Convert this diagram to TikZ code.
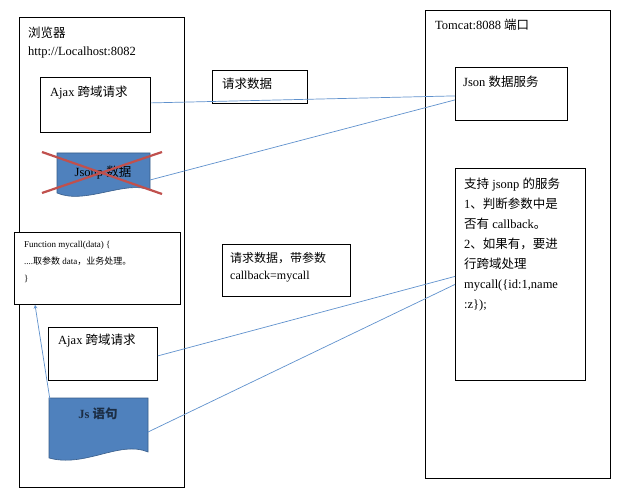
\documentclass[tikz,border=0pt]{standalone}
\usepackage{fontspec}
\setmainfont{Liberation Serif}
\newfontfamily\cjk{Noto Sans CJK SC}
\newcommand{\zh}[1]{{\cjk #1}}
\definecolor{lnblue}{RGB}{95,145,205}
\definecolor{docblue}{RGB}{79,129,189}
\definecolor{docedge}{RGB}{56,93,138}
\definecolor{xred}{RGB}{192,80,77}
\begin{document}
\begin{tikzpicture}[x=1pt,y=-1pt,
  box/.style={draw=black,line width=0.8pt,fill=white},
  lbl/.style={anchor=north west,inner sep=0pt,font=\fontsize{12.5}{15}\selectfont,align=left},
  conn/.style={draw=lnblue,line width=0.7pt}]
\useasboundingbox (0,0) rectangle (643,500);
% containers
\node[box,minimum width=165pt,minimum height=470pt,anchor=north west] (browser) at (19,17) {};
\node[lbl] (bt1) at (28,27) {\zh{浏览器}};
\node[lbl] (bt2) at (28,47) {http://Localhost:8082};
\node[box,minimum width=185pt,minimum height=468pt,anchor=north west] (tomcat) at (425,10) {};
\node[lbl] (tt) at (435,19) {Tomcat:8088 \zh{端口}};
% browser boxes
\node[box,minimum width=110pt,minimum height=55pt,anchor=north west] (ajax1) at (40,77) {};
\node[lbl] at (50,86) {Ajax \zh{跨域请求}};
% jsonp doc
\path[fill=docblue,draw=docedge,line width=0.6pt] (57,153) -- (150,153) -- (150,190)
  .. controls (125,180) and (85,205) .. (57,193) -- cycle;
\node[font=\fontsize{12.5}{15}\selectfont] (jsonp) at (103,173) {Jsonp \zh{数据}};
\coordinate (jsonpR) at (150,180);
\draw[xred,line width=2.2pt] (42,152) -- (162,194);
\draw[xred,line width=2.2pt] (42,193) -- (162,152);
% function box
\node[box,minimum width=166pt,minimum height=72pt,anchor=north west] (func) at (14,232) {};
\node[lbl,font=\fontsize{9}{17}\selectfont] at (24,241) {Function mycall(data) \{\\....\zh{取参数} data\zh{，业务处理。}\\\}};
% ajax2
\node[box,minimum width=109pt,minimum height=53pt,anchor=north west] (ajax2) at (48,327) {};
\node[lbl] at (58,334) {Ajax \zh{跨域请求}};
% js doc
\path[fill=docblue,draw=docedge,line width=0.6pt] (49,398) -- (148,398) -- (148,452)
  .. controls (120,440) and (85,468) .. (49,458) -- cycle;
\node[font=\bfseries\fontsize{12.5}{15}\selectfont,text=docedge!50!black] (js) at (98,414) {Js \zh{语句}};
\coordinate (jsR) at (148,432);
\coordinate (jsL) at (50,400);
% middle labels
\node[box,minimum width=95pt,minimum height=33pt,anchor=north west] (req1) at (212,70) {};
\node[lbl] at (222,78) {\zh{请求数据}};
\node[box,minimum width=128pt,minimum height=52pt,anchor=north west] (req2) at (222,244) {};
\node[lbl,font=\fontsize{12}{17}\selectfont] at (230,252) {\zh{请求数据，带参数}\\callback=mycall};
% tomcat boxes
\node[box,minimum width=112pt,minimum height=53pt,anchor=north west] (jsonsvc) at (455,67) {};
\node[lbl] at (463,76) {Json \zh{数据服务}};
\node[box,minimum width=130pt,minimum height=212pt,anchor=north west] (support) at (455,168) {};
\node[lbl,font=\fontsize{12.5}{20}\selectfont] at (464,178) {\zh{支持} jsonp \zh{的服务}\\1\zh{、判断参数中是}\\\zh{否有} callback\zh{。}\\2\zh{、如果有，要进}\\\zh{行跨域处理}\\mycall(\{id:1,name\\:z\});};
% connectors
\draw[conn] (ajax1.east) ++(0,-2) -- ([yshift=-2pt]jsonsvc.west);
\draw[conn] (jsonpR) -- ([yshift=-6pt]jsonsvc.west);
\draw[conn] ([yshift=-2pt]ajax2.east) -- ([yshift=-2pt]support.west);
\draw[conn] (jsR) -- ([yshift=-10pt]support.west);
\draw[conn,-stealth] (jsL) -- ([xshift=21pt]func.south west);
\end{tikzpicture}
\end{document}
